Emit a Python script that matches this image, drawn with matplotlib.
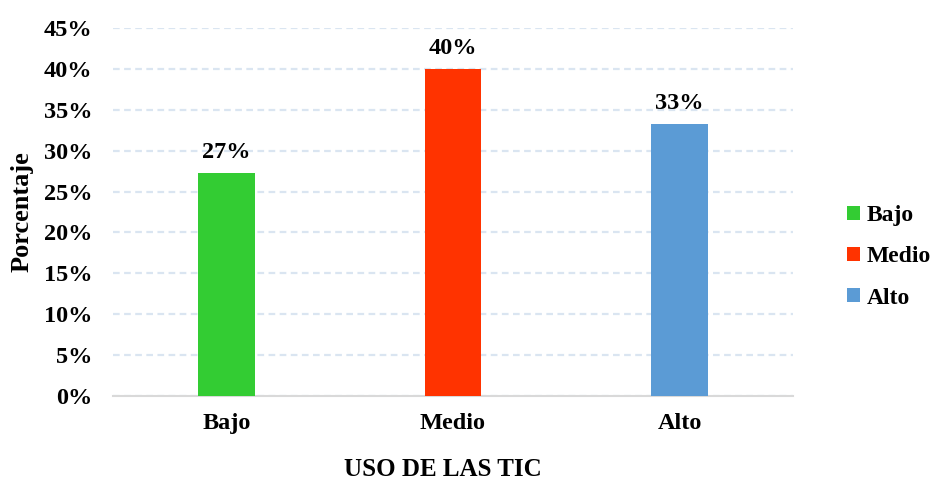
import matplotlib
matplotlib.use("Agg")
import matplotlib.pyplot as plt
from matplotlib.patches import Patch

# Data
categories = ["Bajo", "Medio", "Alto"]
values = [27.3, 40.0, 33.3]
colors = ["#33cc33", "#ff3300", "#5b9bd5"]
yticks = [0, 5, 10, 15, 20, 25, 30, 35, 40, 45]

plt.rcParams["font.family"] = ["Liberation Serif", "DejaVu Serif"]
plt.rcParams["font.weight"] = "bold"

fig = plt.figure(figsize=(9.34, 4.82), dpi=100)
ax = fig.add_axes([113 / 934, 1 - 396 / 482, 680 / 934, 368 / 482])

x = list(range(len(categories)))
bars = ax.bar(x, values, width=0.25, color=colors, zorder=3)

for b, v in zip(bars, values):
    ax.annotate(f"{v:.0f}%", (b.get_x() + b.get_width() / 2, v),
                xytext=(0, 7), textcoords="offset points",
                ha="center", va="bottom", fontsize=17.5, fontweight="bold")

ax.set_xlim(-0.5, len(categories) - 0.5)
ax.set_ylim(0, 45)
ax.set_yticks(yticks)
ax.set_yticklabels([f"{t}%" for t in yticks])
ax.set_xticks(x)
ax.set_xticklabels(categories)
ax.tick_params(axis="both", length=0, labelsize=17.5)
ax.tick_params(axis="y", pad=15)
ax.tick_params(axis="x", pad=12)
for lab in ax.get_xticklabels() + ax.get_yticklabels():
    lab.set_fontweight("bold")

ax.yaxis.grid(True, color="#dae5f1", linestyle=(0, (3, 2)), linewidth=1.6, zorder=0)
ax.set_axisbelow(True)
for s in ["top", "right", "left"]:
    ax.spines[s].set_visible(False)
ax.spines["bottom"].set_color("#d9d9d9")
ax.spines["bottom"].set_linewidth(1.5)

ax.set_ylabel("Porcentaje", fontsize=19, fontweight="bold")
ax.yaxis.set_label_coords(22 / 934 * 934 / 680 - 113 / 680, 0.5)
ax.yaxis.label.set_va("center")
ax.set_xlabel("USO DE LAS TIC", fontsize=18, fontweight="bold")
ax.xaxis.set_label_coords(0.485, -(470 - 396) / 368)
ax.xaxis.label.set_va("center")

handles = [Patch(facecolor=c, label=l) for c, l in zip(colors, categories)]
fig.legend(handles=handles, loc="center left", bbox_to_anchor=(847 / 934, 1 - 257 / 482),
           frameon=False, handlelength=0.55, handleheight=0.55,
           handletextpad=0.3, labelspacing=0.85, borderpad=0, borderaxespad=0,
           prop={"weight": "bold", "size": 17})

fig.savefig("out.png", dpi=100)
